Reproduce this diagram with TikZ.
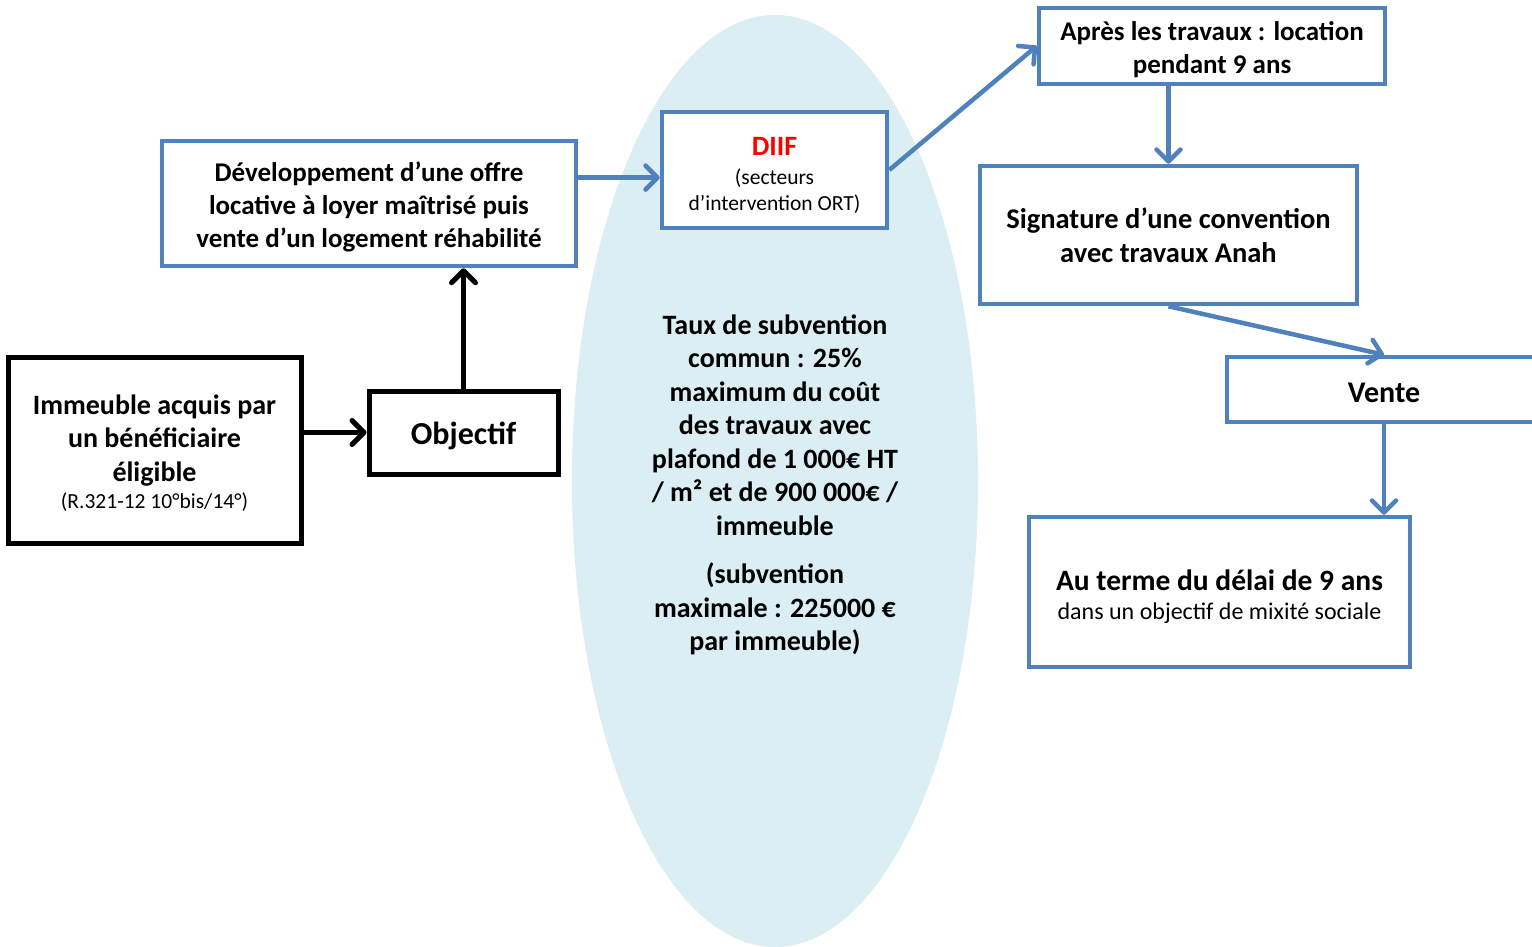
\documentclass[tikz,border=0pt]{standalone}
\usepackage{fontspec}
\setmainfont{Carlito}
\usetikzlibrary{arrows.meta,calc}
\definecolor{bluebox}{HTML}{4F81BD}
\definecolor{ellcol}{HTML}{DAEEF3}
\definecolor{diifred}{HTML}{FF0000}
\newcommand{\smallfont}{\fontsize{21.5}{26}\selectfont\mdseries}
\newcommand{\topstrut}[1]{\rule{0pt}{#1}}
\tikzset{
  bbox/.style={draw=bluebox,line width=4.5pt,fill=white,align=center,inner sep=0pt,font=\fontsize{27}{33}\selectfont\bfseries},
  kbox/.style={draw=black,line width=5pt,fill=white,align=center,inner sep=0pt,font=\fontsize{28}{33.5}\selectfont\bfseries},
  barrow/.style={draw=bluebox,line width=4.5pt,-{Straight Barb[length=12pt,width=24pt,round]}},
  karrow/.style={draw=black,line width=5pt,-{Straight Barb[length=12pt,width=24pt,round]}},
}
\begin{document}
\begin{tikzpicture}[x=1pt,y=-1pt]
\useasboundingbox (0,0) rectangle (1532,946);
\clip (0,0) rectangle (1532,946);
\fill[white] (0,0) rectangle (1532,946);
\fill[ellcol] (775,481) ellipse [x radius=203pt,y radius=466pt];
\node[font=\fontsize{28}{33.5}\selectfont\bfseries,align=center] (ell) at (775,485)
  {Taux de subvention\\commun : 25\%\\maximum du coût\\des travaux avec\\plafond de 1 000€ HT\\/ m² et de 900 000€ /\\immeuble\\[15pt](subvention\\maximale : 225000 €\\par immeuble)};

\node[bbox,minimum width=414pt,minimum height=125pt] (dev) at (369,203.5)
  {\topstrut{26pt}Développement d’une offre\\locative à loyer maîtrisé puis\\vente d’un logement réhabilité};
\node[bbox,minimum width=225pt,minimum height=116pt] (diif) at (774.5,170)
  {\fontsize{28}{33}\selectfont\color{diifred}\topstrut{28pt}DIIF\\[-4pt]\smallfont (secteurs\\[-7pt]\smallfont d’intervention ORT)};
\node[bbox,minimum width=346pt,minimum height=76pt] (apres) at (1212,46)
  {\topstrut{26pt}Après les travaux : location\\pendant 9 ans};
\node[bbox,minimum width=377pt,minimum height=138pt,font=\fontsize{28.5}{34}\selectfont\bfseries] (sig) at (1168.5,235)
  {Signature d’une convention\\avec travaux Anah};
\node[bbox,minimum width=314pt,minimum height=65pt,font=\fontsize{30}{34}\selectfont\bfseries] (vente) at (1384,389.5) {\topstrut{26pt}Vente};
\node[bbox,minimum width=381pt,minimum height=150pt] (fin) at (1219.5,592)
  {\fontsize{29.5}{33}\selectfont\topstrut{31pt}Au terme du délai de 9 ans\\[-4pt]\fontsize{24}{28}\selectfont\mdseries dans un objectif de mixité sociale};
\node[kbox,minimum width=293pt,minimum height=186pt] (imm) at (154.5,450)
  {\topstrut{26pt}Immeuble acquis par\\un bénéficiaire\\éligible\\[-6pt]\fontsize{21.5}{24}\selectfont\mdseries (R.321-12 10°bis/14°)};
\node[kbox,minimum width=189pt,minimum height=83pt,font=\fontsize{32}{36}\selectfont\bfseries] (obj) at (463.5,432.5) {\topstrut{29pt}Objectif};

\coordinate (d1) at ($(dev.north east)!0.3!(dev.south east)$);
\draw[karrow] (imm.east |- obj.west) -- (obj.west);
\draw[karrow] (obj.north) -- (obj.north |- dev.south);
\draw[barrow] (d1) -- (diif.west |- d1);
\draw[barrow] (diif.east) -- (apres.west);
\draw[barrow] (sig.north |- apres.south) -- (sig.north);
\draw[barrow] (sig.south) -- (vente.north);
\draw[barrow] (vente.south) -- (vente.south |- fin.north);
\end{tikzpicture}
\end{document}
